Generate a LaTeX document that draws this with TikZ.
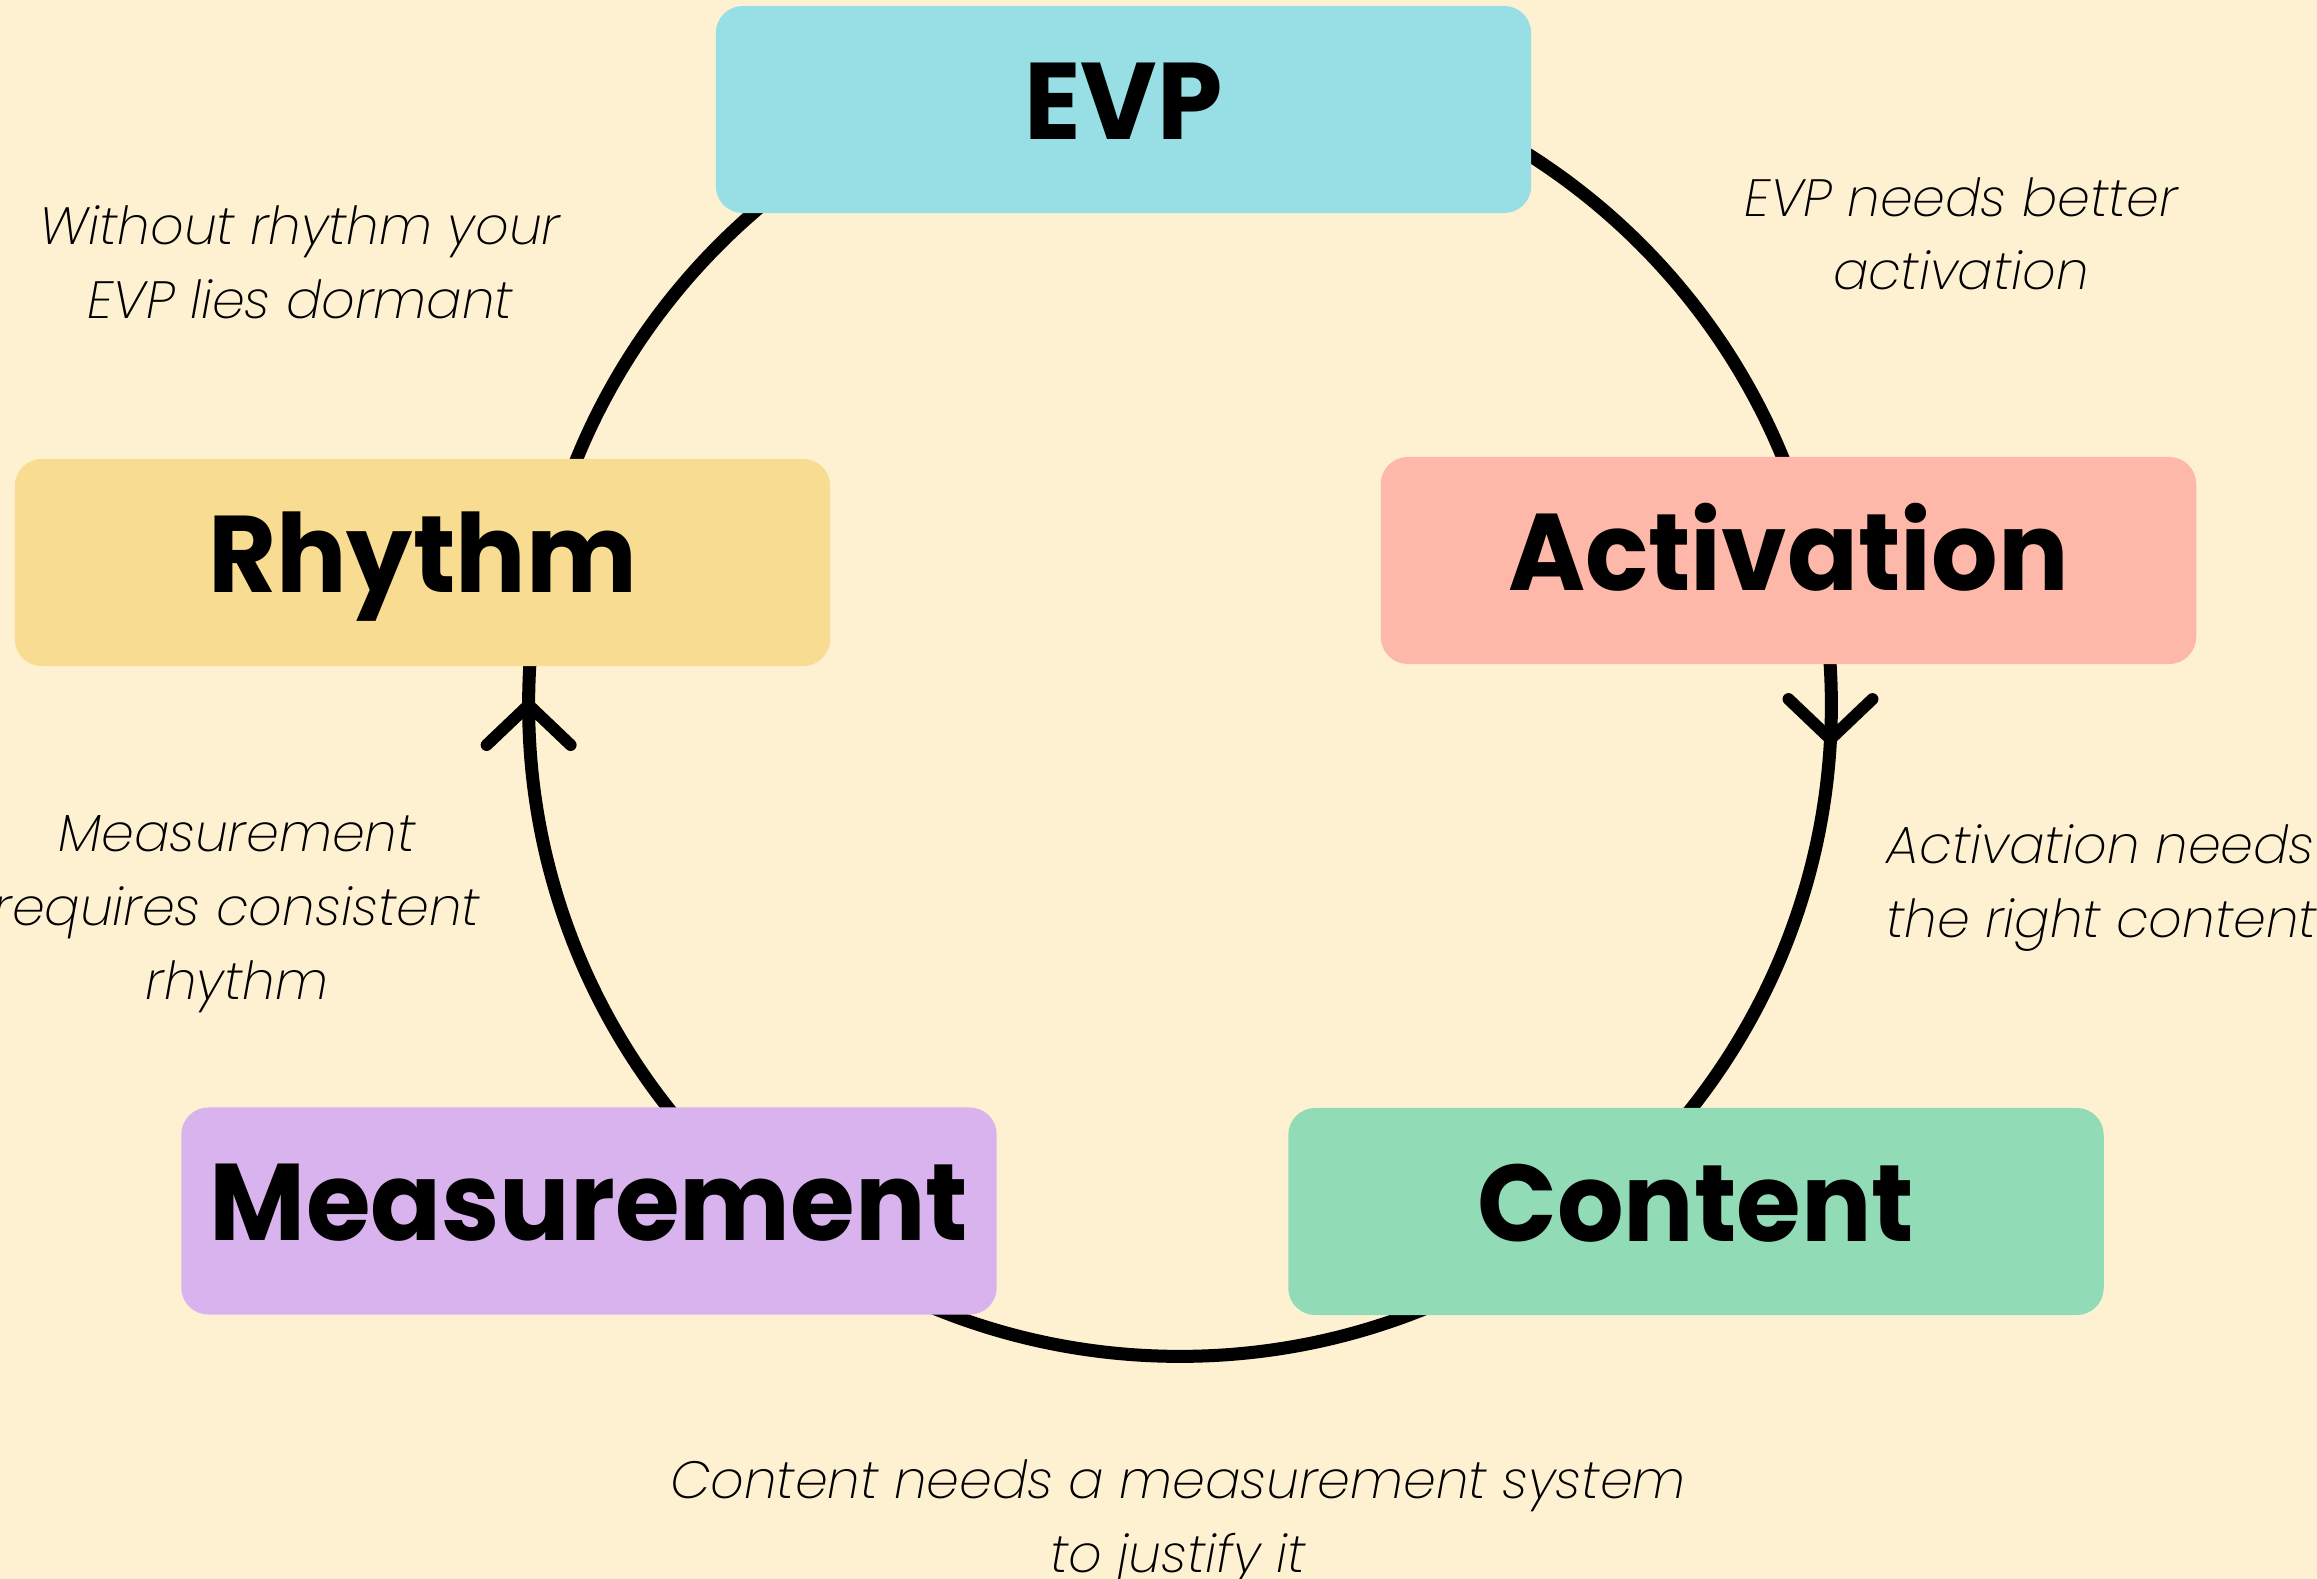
\documentclass[tikz,border=0pt]{standalone}
\usepackage{fontspec}
\setmainfont{Poppins}
\newfontfamily\stagefont{Poppins Bold}[FakeStretch=0.96]
\newfontfamily\notefont{Poppins ExtraLight Italic}
\usetikzlibrary{calc}
\definecolor{paper}{HTML}{FEF1D2}
\definecolor{evpc}{HTML}{97DFE5}
\definecolor{actc}{HTML}{FEB8AA}
\definecolor{conc}{HTML}{91DBB6}
\definecolor{rhyc}{HTML}{F7DC91}
\definecolor{meac}{HTML}{D9B3EE}
\begin{document}
\begin{tikzpicture}[x=0.01cm,y=-0.01cm,
  stage/.style={rounded corners=7.7pt, minimum width=8.15cm, minimum height=2.07cm,
    inner sep=0pt, font=\stagefont\fontsize{31}{31}\selectfont,
    text height=24pt, text depth=7pt},
  ring/.style={line width=3.7pt},
  chevron/.style={line width=3.4pt, line cap=round, line join=round},
  note/.style={font=\notefont\fontsize{14.9}{21}\selectfont, align=center, inner sep=0pt}]
  % page
  \fill[paper] (0,0) rectangle (2317,1579);
  \useasboundingbox (0,0) rectangle (2317,1579);
  \clip (0,0) rectangle (2317,1579);

  % the cycle ring
  \coordinate (hub) at (1180,705);
  \draw[ring] (hub) circle [radius=6.51cm];

  % stages
  \node[stage, fill=evpc] (evp) at (1123.5,109.5) {EVP};
  \node[stage, fill=actc] (act) at (1788.5,560.5) {Activation};
  \node[stage, fill=conc] (con) at (1696,1211.5) {Content};
  \node[stage, fill=meac] (mea) at (589,1211) {Measurement};
  \node[stage, fill=rhyc] (rhy) at (422.5,562.5) {Rhythm};

  % direction marks on the ring
  \coordinate (tipR) at ($(hub)+(-3:6.51cm)$);
  \coordinate (tipL) at ($(hub)+(180:6.51cm)$);
  \draw[chevron] ($(tipR)+(-42,-40)$) -- (tipR) -- ($(tipR)+(42,-40)$);
  \draw[chevron] ($(tipL)+(-42,40)$) -- (tipL) -- ($(tipL)+(42,40)$);

  % notes (base anchor sits on the last line)
  \node[note, anchor=base] (n1) at (300,318) {Without rhythm your\\EVP lies dormant};
  \node[note, anchor=base] (n2) at (1961,290) {EVP needs better\\activation};
  \node[note, anchor=base west, align=left] (n3) at (1886,937) {Activation needs\\the right content};
  \node[note, anchor=base] (n4) at (237,999) {Measurement\\requires consistent\\rhythm};
  \node[note, anchor=base] (n5) at (1178,1572) {Content needs a measurement system\\to justify it};
\end{tikzpicture}
\end{document}
